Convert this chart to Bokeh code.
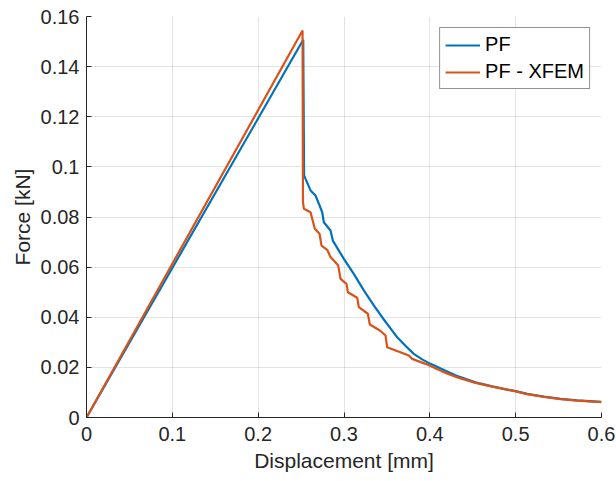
from bokeh.plotting import figure
from bokeh.models import Range1d, FixedTicker, CustomJSTickFormatter, Legend, LegendItem
from bokeh.embed import file_html
from bokeh.resources import INLINE

# Data
pf_x = [0, 0.2525, 0.2535, 0.2552, 0.2610, 0.2668, 0.2707, 0.2746, 0.2765, 0.2843, 0.2870,
        0.2998, 0.3114, 0.3231, 0.3347, 0.3464, 0.3620, 0.3716, 0.3813, 0.3910, 0.4008,
        0.4221, 0.4338, 0.4532, 0.4727, 0.5000, 0.5134, 0.5328, 0.5523, 0.5717, 0.6000]
pf_y = [0, 0.1507, 0.0966, 0.0952, 0.0906, 0.0886, 0.0853, 0.0819, 0.0779, 0.0746, 0.0706,
        0.0633, 0.0573, 0.0507, 0.0447, 0.0391, 0.0320, 0.0286, 0.0254, 0.0232, 0.0214,
        0.0181, 0.0163, 0.0140, 0.0124, 0.0105, 0.0094, 0.0083, 0.0074, 0.0068, 0.0062]

xfem_x = [0, 0.2517, 0.2522, 0.2532, 0.2610, 0.2630, 0.2660, 0.2715, 0.2738, 0.2804, 0.2843,
          0.2932, 0.2960, 0.3029, 0.3045, 0.3154, 0.3173, 0.3278, 0.3301, 0.3418, 0.3484,
          0.3503, 0.3756, 0.3794, 0.3950, 0.4008, 0.4183, 0.4338, 0.4532, 0.4727, 0.5000,
          0.5134, 0.5328, 0.5523, 0.5717, 0.6000]
xfem_y = [0, 0.1544, 0.0860, 0.0833, 0.0819, 0.0793, 0.0753, 0.0733, 0.0686, 0.0669, 0.0640,
          0.0607, 0.0553, 0.0533, 0.0500, 0.0478, 0.0440, 0.0414, 0.0371, 0.0347, 0.0327,
          0.0280, 0.0247, 0.0234, 0.0214, 0.0205, 0.0178, 0.0158, 0.0138, 0.0123, 0.0104,
          0.0093, 0.0082, 0.0073, 0.0067, 0.0061]

x_ticks = [0, 0.1, 0.2, 0.3, 0.4, 0.5, 0.6]
y_ticks = [0, 0.02, 0.04, 0.06, 0.08, 0.1, 0.12, 0.14, 0.16]

FONT = "Liberation Sans"
AX = "#262626"

p = figure(width=616, height=481, output_backend="svg", toolbar_location=None,
           x_range=Range1d(0, 0.6), y_range=Range1d(0, 0.16),
           min_border_left=86, min_border_right=15, min_border_top=16, min_border_bottom=64)
p.outline_line_color = None
p.background_fill_color = "white"
p.border_fill_color = "white"

fmt = CustomJSTickFormatter(code="""
let s = tick.toFixed(2);
if (s.indexOf('.') >= 0) { s = s.replace(/0+$/, '').replace(/\\.$/, ''); }
return s;
""")

for ax in (p.xaxis[0], p.yaxis[0]):
    ax.formatter = fmt
    ax.axis_line_color = AX
    ax.axis_line_width = 1
    ax.major_tick_line_color = AX
    ax.major_tick_in = 5
    ax.major_tick_out = 0
    ax.minor_tick_line_color = None
    ax.major_label_text_font = FONT
    ax.major_label_text_font_size = "20px"
    ax.major_label_text_color = AX
    ax.axis_label_text_font = FONT
    ax.axis_label_text_font_size = "21px"
    ax.axis_label_text_font_style = "normal"
    ax.axis_label_text_color = AX

p.xaxis.ticker = FixedTicker(ticks=x_ticks)
p.yaxis.ticker = FixedTicker(ticks=y_ticks)
p.xaxis.axis_label = "Displacement [mm]"
p.yaxis.axis_label = "Force [kN]"
p.xaxis.major_label_standoff = 9
p.yaxis.major_label_standoff = 7
p.xaxis.axis_label_standoff = 5
p.yaxis.axis_label_standoff = 4

for g in (p.xgrid[0], p.ygrid[0]):
    g.grid_line_color = AX
    g.grid_line_alpha = 0.13
    g.grid_line_width = 1

r1 = p.line(pf_x, pf_y, line_color="#0072BD", line_width=2.2)
r2 = p.line(xfem_x, xfem_y, line_color="#D95319", line_width=2.2)

legend = Legend(items=[LegendItem(label="PF", renderers=[r1]),
                       LegendItem(label="PF - XFEM", renderers=[r2])],
                location="top_right", margin=11, padding=5, spacing=4,
                glyph_width=35, glyph_height=20, label_height=20, label_standoff=5,
                label_text_font=FONT, label_text_font_size="20px", label_text_color="black",
                border_line_color=AX, border_line_width=1, background_fill_color="white",
                background_fill_alpha=1)
p.add_layout(legend)

open("out.html", "w").write(file_html(p, INLINE))
